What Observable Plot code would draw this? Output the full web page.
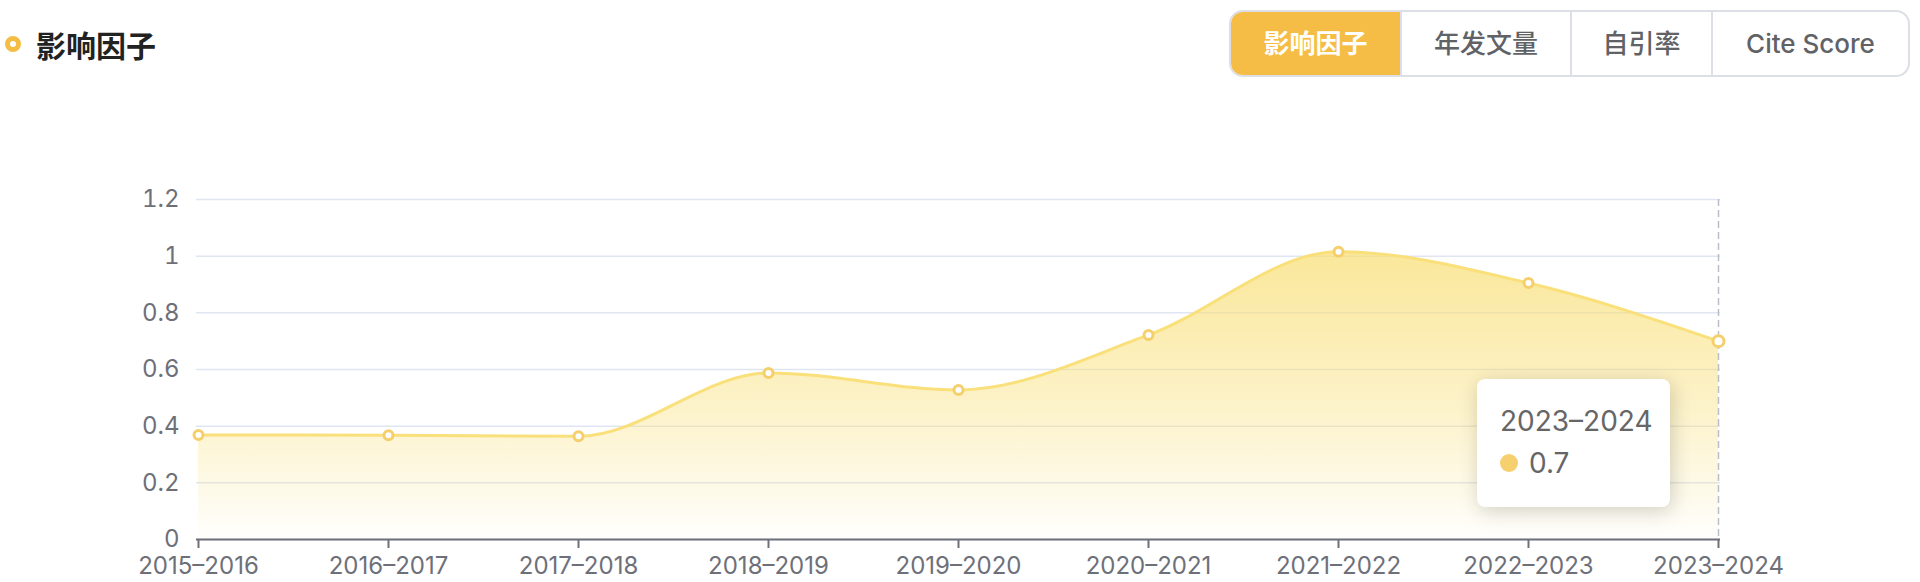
<!DOCTYPE html>
<html>
<head>
<meta charset="utf-8">
<script src="https://cdn.jsdelivr.net/npm/d3@7"></script>
<script src="https://cdn.jsdelivr.net/npm/@observablehq/plot@0.6"></script>
<style>
  html, body { margin: 0; padding: 0; background: #fff; }
  body { width: 1920px; height: 582px; position: relative; overflow: hidden;
         font-family: Inter, "Noto Sans CJK SC", sans-serif; }
  #chart { position: absolute; left: 0; top: 0; }
  #title { position: absolute; left: 5px; top: 29px; height: 30px; display: flex; align-items: center; }
  #title .icon { width: 6px; height: 6px; border: 5px solid #f5bd45; border-radius: 50%; background: #fff; }
  #title .txt { margin-left: 15px; font-size: 30px; line-height: 30px; font-weight: 700; color: #222; font-family: "Noto Sans CJK SC", sans-serif; }
  #tabs { position: absolute; left: 1229px; top: 10px; height: 63px; display: flex;
          border: 2px solid #dcdfe6; border-radius: 14px; overflow: hidden; }
  #tabs div { height: 63px; line-height: 63px; text-align: center; font-size: 26px; font-weight: 500;
              color: #606266; box-sizing: border-box; border-left: 2px solid #dcdfe6; flex: none; }
  #tabs div:first-child { border-left: none; }
  #tabs div.active { background: #f5bd45; color: #fff; font-weight: 700; }
  #tip { position: absolute; background: #fff; border-radius: 8px; box-shadow: 2px 4px 20px rgba(0,0,0,0.18);
         padding: 24px 23px 26px 23px; color: #666; font-size: 28px; font-family: Inter, sans-serif; }
  #tip .t { height: 36px; line-height: 36px; white-space: nowrap; }
  #tip .v { height: 36px; line-height: 36px; margin-top: 6px; display: flex; align-items: center; }
  #tip .dot { width: 18px; height: 18px; border-radius: 50%; background: #f6d06e; margin-right: 11px; }
</style>
</head>
<body>
<div id="chart"></div>
<div id="title"><span class="icon"></span><span class="txt"></span></div>
<div id="tabs"></div>
<script>
// ---- data ----
const years = ["2015–2016", "2016–2017", "2017–2018", "2018–2019", "2019–2020", "2020–2021", "2021–2022", "2022–2023", "2023–2024"];
const impactFactor = [0.369, 0.368, 0.364, 0.588, 0.528, 0.722, 1.016, 0.905, 0.7];
const yTicks = [0, 0.2, 0.4, 0.6, 0.8, 1, 1.2];
const titleText = "影响因子";
const tabLabels = ["影响因子", "年发文量", "自引率", "Cite Score"];
const activeTab = "影响因子";

const data = years.map((year, i) => ({year, value: impactFactor[i]}));
const last = data[data.length - 1];

// ---- header ----
document.querySelector("#title .txt").textContent = titleText;
const tabWidths = [171, 170, 141, 199];
const tabs = document.getElementById("tabs");
tabLabels.forEach((t, i) => {
  const d = document.createElement("div");
  d.textContent = t;
  d.style.width = (tabWidths[i] - (i === 0 ? 2 : 0) - (i === tabLabels.length - 1 ? 2 : 0)) + "px";
  if (t === activeTab) d.className = "active";
  tabs.appendChild(d);
});

// ---- chart ----
const lineColor = "#f9e07a";
const pointColor = "#f5cf6b";

const defs = () => {
  const svgNS = "http://www.w3.org/2000/svg";
  const d = document.createElementNS(svgNS, "defs");
  d.innerHTML = `<linearGradient id="ifGrad" x1="0" y1="0" x2="0" y2="1">
      <stop offset="0%" stop-color="rgb(248,222,115)" stop-opacity="0.72"/>
      <stop offset="55%" stop-color="rgb(248,222,115)" stop-opacity="0.38"/>
      <stop offset="100%" stop-color="rgb(248,222,115)" stop-opacity="0.02"/>
    </linearGradient>`;
  return d;
};

const plot = Plot.plot({
  width: 1920,
  height: 582,
  marginTop: 199,
  marginBottom: 43,
  marginLeft: 196,
  marginRight: 200,
  style: {fontFamily: "Inter, 'Noto Sans CJK SC', sans-serif", fontSize: "24px", color: "#6e7079", background: "transparent", overflow: "visible"},
  x: {type: "point", domain: years, padding: 0, label: null},
  y: {domain: [0, 1.2], label: null},
  marks: [
    defs,
    Plot.gridY(yTicks, {stroke: "#e0e6f1", strokeOpacity: 1, strokeWidth: 1.5}),
    Plot.areaY(data, {x: "year", y: "value", curve: "monotone-x", fill: "url(#ifGrad)"}),
    Plot.ruleX([last.year], {stroke: "#b9bec9", strokeWidth: 1.5, strokeDasharray: "7,4"}),
    Plot.lineY(data, {x: "year", y: "value", curve: "monotone-x", stroke: lineColor, strokeWidth: 3}),
    Plot.ruleY([0], {stroke: "#6e7079", strokeWidth: 2}),
    Plot.axisY(yTicks, {tickSize: 0, tickPadding: 17, tickFormat: d => String(d), fill: "#6e7079", fontSize: 24, label: null}),
    Plot.axisX({tickSize: 9, tickPadding: 8, stroke: "#6e7079", strokeWidth: 2, fill: "#6e7079", fontSize: 24, label: null}),
    Plot.dot(data.slice(0, -1), {x: "year", y: "value", r: 4.5, stroke: pointColor, strokeWidth: 3, fill: "#fff"}),
    Plot.dot([last], {x: "year", y: "value", r: 5.5, stroke: pointColor, strokeWidth: 3, fill: "#fff"})
  ]
});
document.getElementById("chart").appendChild(plot);

// ---- tooltip ----
const xs = plot.scale("x"), ys = plot.scale("y");
const px = xs.apply(last.year), py = ys.apply(last.value);
const tip = document.createElement("div");
tip.id = "tip";
tip.innerHTML = `<div class="t"></div><div class="v"><span class="dot"></span><span class="val"></span></div>`;
tip.querySelector(".t").textContent = last.year;
tip.querySelector(".val").textContent = String(last.value);
tip.style.left = (px - 241) + "px";
tip.style.top = (py + 38) + "px";
tip.style.width = "147px";
document.body.appendChild(tip);
</script>
</body>
</html>
